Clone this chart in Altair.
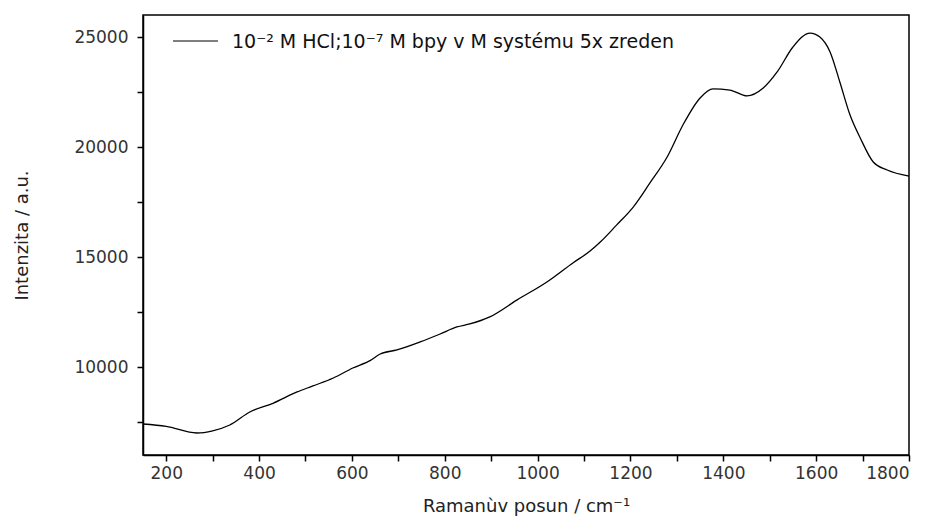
import altair as alt
import pandas as pd

raman_shift = [150, 200, 266, 300, 337, 380, 430, 482, 516, 560, 602, 640, 661, 697,
               747, 790, 826, 854, 897, 956, 1020, 1076, 1113, 1135, 1170, 1206, 1242,
               1279, 1313, 1350, 1378, 1414, 1451, 1486, 1516, 1550, 1587, 1608, 1630,
               1651, 1673, 1695, 1723, 1753, 1800]
intensity = [7410, 7300, 7000, 7100, 7365, 7955, 8350, 8865, 9140, 9500, 9955, 10300,
             10590, 10775, 11140, 11500, 11820, 11955, 12275, 13050, 13865, 14730,
             15270, 15680, 16450, 17270, 18365, 19545, 21000, 22230, 22640, 22590,
             22320, 22680, 23410, 24545, 25180, 25000, 24320, 22955, 21455, 20410,
             19320, 18955, 18680]

x_ticks = list(range(200, 1801, 100))
y_ticks = [7500, 10000, 12500, 15000, 17500, 20000, 22500, 25000]
legend_label = "10⁻² M HCl;10⁻⁷ M bpy v M systému 5x zreden"
x_title = "Ramanùv posun / cm⁻¹"
y_title = "Intenzita / a.u."

df = pd.DataFrame({"x": raman_shift, "y": intensity})
FONT = "DejaVu Sans"

line = alt.Chart(df).mark_line(color="black", strokeWidth=1.3, interpolate="monotone").encode(
    x=alt.X("x:Q", scale=alt.Scale(domain=[150, 1800], nice=False, zero=False),
            axis=alt.Axis(values=x_ticks, format="d", title=x_title,
                          labelExpr="datum.value % 200 == 0 ? datum.label : ''",
                          grid=False, domainColor="black", domainWidth=1.5,
                          tickColor="black", tickWidth=1.5, tickSize=6,
                          labelFont=FONT, labelFontSize=17, labelColor="#333",
                          labelPadding=4, titleFont=FONT, titleFontSize=18,
                          titleFontWeight="normal", titleColor="#222",
                          titlePadding=16)),
    y=alt.Y("y:Q", scale=alt.Scale(domain=[6000, 26000], nice=False, zero=False),
            axis=alt.Axis(values=y_ticks, format="d", title=y_title,
                          labelExpr="datum.value % 5000 == 0 ? datum.label : ''",
                          grid=False, domainColor="black", domainWidth=1.5,
                          tickColor="black", tickWidth=1.5, tickSize=6,
                          labelFont=FONT, labelFontSize=17, labelColor="#333",
                          labelPadding=9, titleFont=FONT, titleFontSize=18,
                          titleFontWeight="normal", titleColor="#222",
                          titleX=-112)),
)

leg_line = alt.Chart(pd.DataFrame({"a": [0]})).mark_rule(color="black", strokeWidth=1).encode(
    x=alt.value(30), x2=alt.value(75), y=alt.value(26))
leg_text = alt.Chart(pd.DataFrame({"t": [legend_label]})).mark_text(
    align="left", baseline="middle", font=FONT, fontSize=19, color="#111").encode(
    x=alt.value(89), y=alt.value(27), text="t:N")

chart = alt.layer(line, leg_line, leg_text).properties(
    width=766, height=440,
    autosize=alt.AutoSizeParams(type="none"),
    padding={"left": 143, "top": 15, "right": 26, "bottom": 72},
    background="white",
).configure_view(stroke="black", strokeWidth=1.5)

chart.save("out.html", embed_options={"renderer": "svg", "actions": False})
